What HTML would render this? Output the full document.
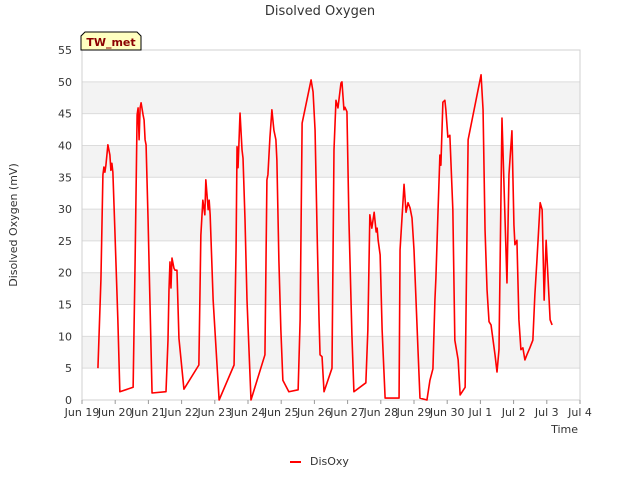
<!DOCTYPE html>
<html><head><meta charset="utf-8"><style>
body{margin:0;background:#fff;font-family:"Liberation Sans","DejaVu Sans",sans-serif}
svg text{font-family:"DejaVu Sans","Liberation Sans",sans-serif}
</style></head><body>
<svg id="c" width="640" height="480" xmlns="http://www.w3.org/2000/svg"></svg>
<script>
const days = [0.48,0.57,0.63,0.66,0.69,0.72,0.78,0.84,0.87,0.90,0.93,0.99,1.08,1.14,1.54,1.60,1.66,1.69,1.72,1.75,1.78,1.84,1.87,1.90,1.93,1.99,2.11,2.53,2.59,2.62,2.65,2.68,2.71,2.77,2.80,2.86,2.92,3.07,3.52,3.58,3.64,3.70,3.73,3.80,3.83,3.86,3.95,4.13,4.58,4.64,4.67,4.70,4.76,4.82,4.85,4.91,4.97,5.09,5.51,5.57,5.60,5.66,5.72,5.78,5.84,5.87,5.93,5.99,6.05,6.23,6.51,6.57,6.63,6.90,6.96,7.02,7.08,7.14,7.17,7.23,7.29,7.53,7.59,7.65,7.71,7.80,7.83,7.89,7.92,7.98,8.04,8.13,8.19,8.55,8.61,8.67,8.73,8.80,8.86,8.89,8.92,8.98,9.04,9.13,9.55,9.58,9.70,9.76,9.82,9.88,9.94,10.00,10.12,10.18,10.39,10.48,10.57,10.63,10.66,10.72,10.78,10.81,10.87,10.93,10.96,11.02,11.08,11.17,11.23,11.33,11.39,11.54,11.63,12.02,12.08,12.14,12.20,12.26,12.32,12.44,12.50,12.56,12.65,12.80,12.86,12.89,12.95,13.01,13.04,13.10,13.16,13.22,13.28,13.34,13.40,13.49,13.58,13.64,13.70,13.80,13.86,13.92,13.98,14.07,14.10,14.16];
const disOxy = [5.0,18.9,35.4,36.6,35.8,36.9,40.1,38.5,36.1,37.2,35.8,26.7,12.6,1.3,2.0,22.0,44.8,45.9,40.9,45.9,46.7,44.8,44.0,40.9,40.1,28.3,1.1,1.3,9.4,17.3,21.7,17.6,22.3,20.7,20.4,20.4,9.7,1.7,5.5,25.9,31.4,29.1,34.6,29.9,31.4,29.1,15.7,0,5.5,23.6,39.8,36.5,45.1,39.3,38.0,28.3,15.7,0,7.1,34.6,35.4,41.2,45.6,42.4,40.9,37.7,22.0,11.0,3.1,1.3,1.6,12.6,43.5,50.3,48.4,42.4,26.7,12.6,7.1,6.8,1.3,5.0,39.3,47.1,45.9,49.8,50.0,45.6,46.0,45.3,28.3,10.2,1.3,2.7,11.0,29.1,27.0,29.5,26.4,27.0,25.1,22.8,11.0,0.3,0.3,23.6,33.9,29.5,31.0,30.2,28.6,23.6,7.9,0.3,0,3.1,4.9,15.7,19.2,29.1,38.5,36.9,46.8,47.1,45.6,41.3,41.6,29.9,9.4,6.3,0.8,2.0,40.9,51.1,45.6,26.7,17.3,12.3,11.8,7.1,4.4,7.9,44.3,18.4,35.4,37.7,42.3,27.5,24.4,25.1,12.6,7.9,8.2,6.3,7.1,8.2,9.4,16.5,21.7,31.0,29.9,15.7,25.1,15.7,12.6,11.8];
const xTicks = ["Jun 19","Jun 20","Jun 21","Jun 22","Jun 23","Jun 24","Jun 25","Jun 26","Jun 27","Jun 28","Jun 29","Jun 30","Jul 1","Jul 2","Jul 3","Jul 4"];
const yTicks = [0,5,10,15,20,25,30,35,40,45,50,55];
const L=82,R=580,T=50,B=400,XMAX=15,YMAX=55;
const sx=d=>L+d*(R-L)/XMAX, sy=v=>B-v*(B-T)/YMAX;
const svg=document.getElementById('c'), NS='http://www.w3.org/2000/svg';
function mk(t,a,txt){const e=document.createElementNS(NS,t);for(const k in a)e.setAttribute(k,a[k]);if(txt!=null)e.textContent=txt;svg.appendChild(e);return e;}
let e;
e=mk('rect',{x:L,y:T,width:R-L,height:B-T,fill:'#fff',stroke:'#d8d8d8'});


for(let i=0;i<yTicks.length-1;i++){
  if(i%2===1){e=mk('rect',{x:L,y:sy(yTicks[i+1]),width:R-L,height:sy(yTicks[i])-sy(yTicks[i+1]),fill:'#f3f3f3'});
  
  }
}
yTicks.forEach(v=>{
  e=mk('line',{x1:L,x2:R,y1:sy(v),y2:sy(v),stroke:'#dcdcdc'});
  
  
  e=mk('text',{x:L-10,y:sy(v)+4,'text-anchor':'end','font-size':11,fill:'#333'},v);
  
  
});
mk('rect',{x:L,y:T,width:R-L,height:B-T,fill:'none',stroke:'#d0d0d0'});
xTicks.forEach((t,i)=>{
  e=mk('line',{x1:sx(i),x2:sx(i),y1:B,y2:B+4,stroke:'#999'});
  
  
  e=mk('text',{x:sx(i),y:B+16,'text-anchor':'middle','font-size':11,fill:'#333'},t);
  
  
});
e=mk('polyline',{points:days.map((d,i)=>sx(d)+','+sy(disOxy[i])).join(' '),fill:'none',stroke:'#ff0000','stroke-width':1.6,'stroke-linejoin':'round'});


e=mk('text',{x:320,y:15,'text-anchor':'middle','font-size':13,fill:'#333'},'Disolved Oxygen');


e=mk('text',{x:0,y:0,'text-anchor':'middle','font-size':11,fill:'#333',transform:'translate(17,225) rotate(-90)'},'Disolved Oxygen (mV)');


e=mk('text',{x:578,y:433,'text-anchor':'end','font-size':11,fill:'#333'},'Time');


e=mk('path',{d:'M81,50 L81,36 L85,32 L137,32 L141,36 L141,50 Z',fill:'#ffffc0',stroke:'#000'});


e=mk('text',{x:111,y:46,'text-anchor':'middle','font-size':11,'font-weight':'bold',fill:'#8b0000'},'TW_met');


e=mk('line',{x1:290,x2:301,y1:462,y2:462,stroke:'#ff0000','stroke-width':2});


e=mk('text',{x:310,y:465,'font-size':11,fill:'#333'},'DisOxy');


</script>
</body></html>
